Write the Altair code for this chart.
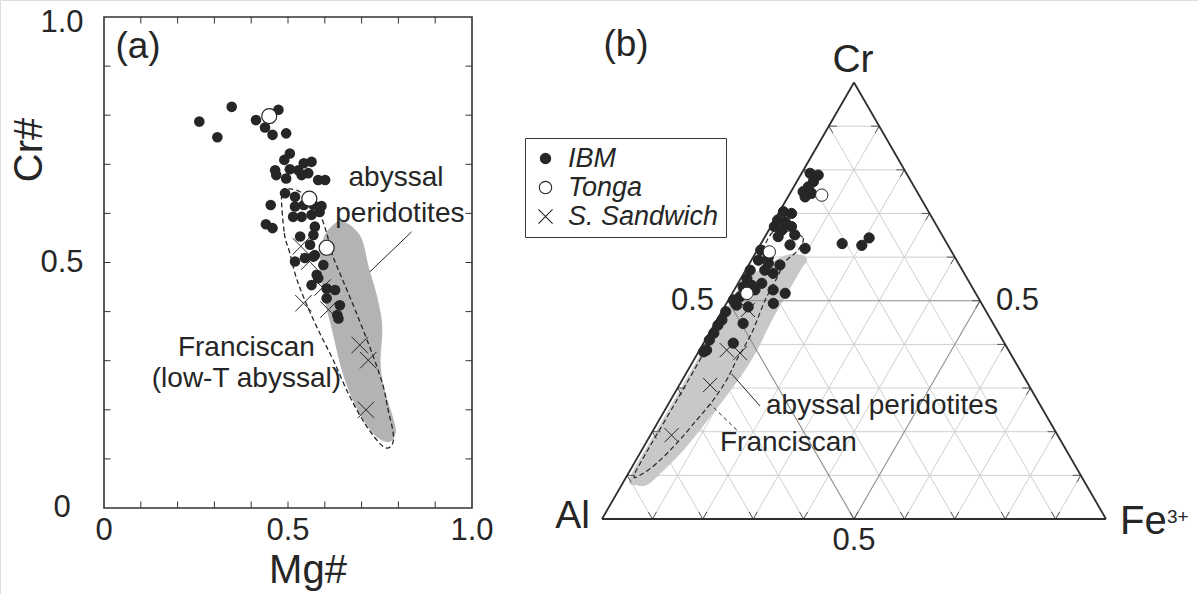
import math
import pandas as pd
import altair as alt

FONT = "Liberation Sans"
INK = "#262626"
GRAY_A = "#b3b3b5"
GRAY_B = "#c8c8c8"
GRID = "#cfcfcf"
GRID_MID = "#8e8e8e"
XPATH = "M-1,-1L1,1M1,-1L-1,1"

W, H = 1198, 594

# ---------------- Panel (a): Mg# vs Cr# ----------------
ibm_a_mg = [0.259, 0.308, 0.347, 0.413, 0.4375, 0.458, 0.474, 0.495,
            0.505, 0.490, 0.465, 0.468, 0.505, 0.495, 0.528, 0.543, 0.564, 0.555, 0.537, 0.582, 0.601,
            0.492, 0.519, 0.453, 0.519, 0.543, 0.569, 0.591, 0.514, 0.537, 0.564, 0.586,
            0.440, 0.458, 0.573, 0.569, 0.533, 0.560, 0.573, 0.546, 0.519, 0.596, 0.578, 0.569,
            0.564, 0.582, 0.605, 0.628, 0.605, 0.641, 0.634, 0.637]
ibm_a_cr = [0.787, 0.755, 0.817, 0.790, 0.775, 0.760, 0.811, 0.763,
            0.722, 0.709, 0.688, 0.678, 0.690, 0.671, 0.688, 0.702, 0.705, 0.682, 0.678, 0.668, 0.668,
            0.641, 0.634, 0.617, 0.614, 0.617, 0.617, 0.615, 0.593, 0.593, 0.597, 0.603,
            0.578, 0.570, 0.573, 0.556, 0.553, 0.536, 0.515, 0.509, 0.502, 0.495, 0.475, 0.512,
            0.454, 0.468, 0.447, 0.444, 0.427, 0.413, 0.393, 0.386]
tonga_a_mg = [0.449, 0.558, 0.605]
tonga_a_cr = [0.798, 0.630, 0.530]
ss_a_mg = [0.535, 0.558, 0.594, 0.542, 0.610, 0.695, 0.718, 0.712]
ss_a_cr = [0.533, 0.502, 0.449, 0.417, 0.404, 0.332, 0.301, 0.200]

# abyssal peridotite field (grey) and Franciscan field (dashed)
abyssal_a_mg = [0.619, 0.650, 0.696, 0.718, 0.741, 0.755, 0.750, 0.759, 0.786, 0.791,
                0.773, 0.732, 0.686, 0.650, 0.623, 0.601, 0.587, 0.596]
abyssal_a_cr = [0.573, 0.583, 0.553, 0.491, 0.430, 0.369, 0.301, 0.247, 0.179, 0.152,
                0.135, 0.152, 0.206, 0.274, 0.356, 0.424, 0.491, 0.546]
francis_a_mg = [0.483, 0.490, 0.505, 0.520, 0.542, 0.578, 0.623, 0.668, 0.714, 0.759,
                0.782, 0.786, 0.772, 0.759, 0.732, 0.686, 0.641, 0.619, 0.605, 0.585, 0.545, 0.505]
francis_a_cr = [0.640, 0.560, 0.519, 0.475, 0.430, 0.369, 0.301, 0.227, 0.166, 0.125,
                0.128, 0.152, 0.200, 0.247, 0.308, 0.397, 0.478, 0.519, 0.560, 0.600, 0.638, 0.650]

ticks_a = [0.1, 0.2, 0.3, 0.4, 0.5, 0.6, 0.7, 0.8, 0.9]
ticklab_a_val = [0.0, 0.5, 1.0]
ticklab_a_txt = ["0", "0.5", "1.0"]

# ---------------- Panel (b): Cr-Al-Fe3+ ternary (fractions, Al = 1 - Cr - Fe) ----------------
ibm_b_cr = [0.792, 0.788, 0.773, 0.761, 0.750, 0.738, 0.746, 0.704, 0.700, 0.685, 0.681, 0.670,
            0.662, 0.670, 0.647, 0.628, 0.620, 0.616, 0.593, 0.586, 0.582, 0.563, 0.570, 0.551,
            0.540, 0.532, 0.509, 0.525, 0.517, 0.494, 0.490, 0.486, 0.475, 0.456, 0.444, 0.448,
            0.403, 0.410, 0.383, 0.387, 0.631, 0.627, 0.644, 0.525, 0.502, 0.570, 0.651, 0.426,
            0.600, 0.535]
ibm_b_fe = [0.017, 0.035, 0.033, 0.029, 0.024, 0.034, 0.043, 0.008, 0.026, 0.006, 0.023, 0.007,
            0.026, 0.041, 0.026, 0.059, 0.093, 0.007, 0.014, 0.037, 0.062, 0.058, 0.009, 0.012,
            0.047, 0.014, 0.019, 0.077, 0.105, 0.093, 0.022, 0.047, 0.008, 0.010, 0.008, 0.056,
            0.059, 0.008, 0.010, 0.014, 0.161, 0.202, 0.208, 0.041, 0.010, 0.038, 0.057, 0.009,
            0.030, 0.030]
tonga_b_cr = [0.742, 0.612, 0.517]
tonga_b_fe = [0.065, 0.026, 0.029]
ss_b_cr = [0.479, 0.387, 0.380, 0.307, 0.192]
ss_b_fe = [0.050, 0.054, 0.084, 0.061, 0.042]

abyssal_b_cr = [0.6025, 0.598, 0.570, 0.517, 0.448, 0.387, 0.326, 0.234, 0.158, 0.1047,
                0.080, 0.078, 0.094, 0.200, 0.350, 0.500, 0.550]
abyssal_b_fe = [0.062, 0.106, 0.108, 0.108, 0.109, 0.1135, 0.111, 0.097, 0.082, 0.063,
                0.051, 0.032, 0.009, 0.008, 0.008, 0.008, 0.015]
francis_b_cr = [0.6575, 0.6438, 0.6163, 0.5888, 0.5521, 0.5017, 0.4254, 0.3643, 0.3184, 0.2726,
                0.2268, 0.1734, 0.1276, 0.1031, 0.0962, 0.1306, 0.2726, 0.433, 0.5934, 0.6575]
francis_b_fe = [0.044, 0.077, 0.081, 0.069, 0.071, 0.073, 0.084, 0.085, 0.088, 0.0845,
                0.0745, 0.0615, 0.0447, 0.028, 0.0154, 0.012, 0.0125, 0.0117, 0.0108, 0.0105]

grid_b = [0.1, 0.2, 0.3, 0.4, 0.5, 0.6, 0.7, 0.8, 0.9]
series_names = ["IBM", "Tonga", "S. Sandwich"]

# ---------------- scales placing each panel on the page ----------------
A_L, A_R, A_T, A_B = 104, 472, 17, 508
xa = alt.Scale(domain=[-A_L / (A_R - A_L), (W - A_L) / (A_R - A_L)], nice=False, zero=False)
ya = alt.Scale(domain=[-(H - A_B) / (A_B - A_T), 1 + A_T / (A_B - A_T)], nice=False, zero=False)
B_X0, B_Y0, SIDE = 602, 519, 504
xb = alt.Scale(domain=[-B_X0 / SIDE, (W - B_X0) / SIDE], nice=False, zero=False)
yb = alt.Scale(domain=[-(H - B_Y0) / SIDE, B_Y0 / SIDE], nice=False, zero=False)
S3 = math.sqrt(3) / 2


def XA(f):
    return alt.X(f, type="quantitative", scale=xa, axis=None)


def YA(f):
    return alt.Y(f, type="quantitative", scale=ya, axis=None)


def XB(f):
    return alt.X(f, type="quantitative", scale=xb, axis=None)


def YB(f):
    return alt.Y(f, type="quantitative", scale=yb, axis=None)


def tern(cr, fe):
    return fe + cr / 2.0, cr * S3


# ================= Panel (a) =================
pts_a = pd.concat([
    pd.DataFrame({"series": "S. Sandwich", "mg": ss_a_mg, "cr": ss_a_cr}),
    pd.DataFrame({"series": "IBM", "mg": ibm_a_mg, "cr": ibm_a_cr}),
    pd.DataFrame({"series": "Tonga", "mg": tonga_a_mg, "cr": tonga_a_cr}),
], ignore_index=True)

gray_a = pd.DataFrame({"mg": abyssal_a_mg, "cr": abyssal_a_cr, "i": range(len(abyssal_a_mg))})
dash_a = pd.DataFrame({"mg": francis_a_mg, "cr": francis_a_cr, "i": range(len(francis_a_mg))})

layer_gray_a = alt.Chart(gray_a).mark_line(
    interpolate="cardinal-closed", fill=GRAY_A, stroke=GRAY_A, strokeWidth=1
).encode(x=XA("mg"), y=YA("cr"), order="i:Q")
layer_dash_a = alt.Chart(dash_a).mark_line(
    interpolate="cardinal-closed", color=INK, strokeWidth=1.3, strokeDash=[5, 3]
).encode(x=XA("mg"), y=YA("cr"), order="i:Q")

leader_a = pd.DataFrame({"x": [0.8361], "y": [0.5627], "x2": [0.7228], "y2": [0.4813]})
layer_leader_a = alt.Chart(leader_a).mark_rule(color=INK, strokeWidth=1).encode(
    x=XA("x"), y=YA("y"), x2="x2", y2="y2")

layer_ss_a = alt.Chart(pts_a[pts_a.series == "S. Sandwich"]).mark_point(
    shape=XPATH, size=270, stroke=INK, strokeWidth=1, opacity=1
).encode(x=XA("mg"), y=YA("cr"))
layer_ibm_a = alt.Chart(pts_a[pts_a.series == "IBM"]).mark_point(
    shape="circle", size=112, filled=True, color=INK, opacity=1
).encode(x=XA("mg"), y=YA("cr"))
layer_tonga_a = alt.Chart(pts_a[pts_a.series == "Tonga"]).mark_point(
    shape="circle", size=225, filled=True, fill="white", stroke=INK, strokeWidth=1.2, opacity=1
).encode(x=XA("mg"), y=YA("cr"))

frame_a = pd.DataFrame({"x": [0.0], "x2": [1.0], "y": [0.0], "y2": [1.0]})
layer_frame_a = alt.Chart(frame_a).mark_rect(fillOpacity=0, stroke="#333333", strokeWidth=1.6).encode(
    x=XA("x"), x2="x2", y=YA("y"), y2="y2")

TLX, TLY = 6.5 / (A_R - A_L), 6.5 / (A_B - A_T)
tick_rows = []
for t in ticks_a:
    tick_rows += [dict(x=t, y=0.0, x2=t, y2=TLY), dict(x=t, y=1.0, x2=t, y2=1 - TLY),
                  dict(x=0.0, y=t, x2=TLX, y2=t), dict(x=1.0, y=t, x2=1 - TLX, y2=t)]
layer_ticks_a = alt.Chart(pd.DataFrame(tick_rows)).mark_rule(color="#333333", strokeWidth=1).encode(
    x=XA("x"), y=YA("y"), x2="x2", y2="y2")

lab_a = pd.DataFrame({"v": ticklab_a_val, "t": ticklab_a_txt, "zero": 0.0})
layer_ylab_a = alt.Chart(lab_a[lab_a.v < 1]).mark_text(font=FONT, fontSize=31, color=INK, align="center",
                                                       baseline="middle", dx=-42).encode(
    x=XA("zero"), y=YA("v"), text="t:N")
layer_ylab_top = alt.Chart(lab_a[lab_a.v == 1]).mark_text(font=FONT, fontSize=31, color=INK, align="center",
                                                          baseline="middle", dx=-42, dy=6).encode(
    x=XA("zero"), y=YA("v"), text="t:N")
layer_xlab_a = alt.Chart(lab_a).mark_text(font=FONT, fontSize=31, color=INK, align="center",
                                          baseline="middle", dy=23).encode(
    x=XA("v"), y=YA("zero"), text="t:N")

ann_a = pd.DataFrame({"t": ["abyssal", "peridotites", "Franciscan", "(low-T abyssal)"],
                      "mg": [0.7935, 0.804, 0.387, 0.387],
                      "cr": [0.672, 0.599, 0.325, 0.263]})
layer_ann_a = alt.Chart(ann_a).mark_text(font=FONT, fontSize=28, color=INK, align="center",
                                         baseline="middle").encode(
    x=XA("mg"), y=YA("cr"), text="t:N")

one = pd.DataFrame({"t": ["Mg#"]})
layer_xtitle = alt.Chart(one).mark_text(font=FONT, fontSize=40, color=INK, align="center",
                                        baseline="alphabetic").encode(
    x=alt.value(308), y=alt.value(583), text="t:N")
layer_ytitle = alt.Chart(pd.DataFrame({"t": ["Cr#"]})).mark_text(
    font=FONT, fontSize=40, color=INK, align="center", baseline="middle", angle=270).encode(
    x=alt.value(30), y=alt.value(150), text="t:N")
layer_tag_a = alt.Chart(pd.DataFrame({"t": ["(a)"]})).mark_text(
    font=FONT, fontSize=37, color=INK, align="center", baseline="alphabetic").encode(
    x=alt.value(138), y=alt.value(58), text="t:N")

panel_a = alt.layer(layer_gray_a, layer_dash_a, layer_leader_a, layer_ss_a, layer_ibm_a,
                    layer_tonga_a, layer_frame_a, layer_ticks_a, layer_ylab_a, layer_ylab_top,
                    layer_xlab_a, layer_ann_a, layer_xtitle, layer_ytitle, layer_tag_a)

# ================= Panel (b) =================
grid_rows, tip_rows = [], []
TIP = 0.016
for t in grid_b:
    segs = [((t, 0.0), (t, 1 - t)),          # Cr = t  (cr, fe)
            ((0.0, t), (1 - t, t)),          # Fe = t
            ((0.0, 1 - t), (1 - t, 0.0))]    # Al = t
    for (c1, f1), (c2, f2) in segs:
        x1, y1 = tern(c1, f1)
        x2, y2 = tern(c2, f2)
        grid_rows.append(dict(x=x1, y=y1, x2=x2, y2=y2, mid="yes" if abs(t - 0.5) < 1e-9 else "no"))
        L = math.hypot(x2 - x1, y2 - y1)
        ux, uy = (x2 - x1) / L, (y2 - y1) / L
        tip_rows.append(dict(x=x1, y=y1, x2=x1 + TIP * ux, y2=y1 + TIP * uy))
        tip_rows.append(dict(x=x2, y=y2, x2=x2 - TIP * ux, y2=y2 - TIP * uy))
grid_df = pd.DataFrame(grid_rows)

layer_grid = alt.Chart(grid_df[grid_df.mid == "no"]).mark_rule(color=GRID, strokeWidth=1).encode(
    x=XB("x"), y=YB("y"), x2="x2", y2="y2")
layer_grid_mid = alt.Chart(grid_df[grid_df.mid == "yes"]).mark_rule(color=GRID_MID, strokeWidth=1.1).encode(
    x=XB("x"), y=YB("y"), x2="x2", y2="y2")
layer_tips = alt.Chart(pd.DataFrame(tip_rows)).mark_rule(color="#555555", strokeWidth=1).encode(
    x=XB("x"), y=YB("y"), x2="x2", y2="y2")

verts = [(0.0, 0.0), (1.0, 0.0), (0.0, 1.0)]  # (cr, fe): Al, Cr, Fe corners
tri_rows = []
for a, b in [(0, 1), (1, 2), (2, 0)]:
    xa1, ya1 = tern(*verts[a])
    xb1, yb1 = tern(*verts[b])
    tri_rows.append(dict(x=xa1, y=ya1, x2=xb1, y2=yb1))
layer_tri = alt.Chart(pd.DataFrame(tri_rows)).mark_rule(color="#2e2e2e", strokeWidth=1.8).encode(
    x=XB("x"), y=YB("y"), x2="x2", y2="y2")

gx, gy = tern(pd.Series(abyssal_b_cr), pd.Series(abyssal_b_fe))
gray_b = pd.DataFrame({"X": gx, "Y": gy, "i": range(len(gx))})
layer_gray_b = alt.Chart(gray_b).mark_line(
    interpolate="cardinal-closed", fill=GRAY_B, stroke=GRAY_B, strokeWidth=1
).encode(x=XB("X"), y=YB("Y"), order="i:Q")
dx_, dy_ = tern(pd.Series(francis_b_cr), pd.Series(francis_b_fe))
dash_b = pd.DataFrame({"X": dx_, "Y": dy_, "i": range(len(dx_))})
layer_dash_b = alt.Chart(dash_b).mark_line(
    interpolate="cardinal-closed", color=INK, strokeWidth=1.2, strokeDash=[5, 3]
).encode(x=XB("X"), y=YB("Y"), order="i:Q")

ld = []
for (c1, f1, c2, f2, kind) in [(0.2589, 0.1841, 0.3322, 0.0912, "solid"),
                               (0.2039, 0.1654, 0.2635, 0.0826, "dash")]:
    x1, y1 = tern(c1, f1)
    x2, y2 = tern(c2, f2)
    ld.append(dict(x=x1, y=y1, x2=x2, y2=y2, kind=kind))
ld = pd.DataFrame(ld)
layer_lead_b1 = alt.Chart(ld[ld.kind == "solid"]).mark_rule(color=INK, strokeWidth=1).encode(
    x=XB("x"), y=YB("y"), x2="x2", y2="y2")
layer_lead_b2 = alt.Chart(ld[ld.kind == "dash"]).mark_rule(color=INK, strokeWidth=1, strokeDash=[4, 3]).encode(
    x=XB("x"), y=YB("y"), x2="x2", y2="y2")

pts_b = pd.concat([
    pd.DataFrame({"series": "S. Sandwich", "cr": ss_b_cr, "fe": ss_b_fe}),
    pd.DataFrame({"series": "IBM", "cr": ibm_b_cr, "fe": ibm_b_fe}),
    pd.DataFrame({"series": "Tonga", "cr": tonga_b_cr, "fe": tonga_b_fe}),
], ignore_index=True)
pts_b["al"] = 1 - pts_b.cr - pts_b.fe
pts_b["X"], pts_b["Y"] = tern(pts_b.cr, pts_b.fe)

leg = alt.Legend(orient="none", legendX=525, legendY=138, title=None, direction="vertical",
                 strokeColor="#3a3a3a", fillColor="white", padding=7, cornerRadius=0,
                 labelFont=FONT, labelFontSize=27, labelFontStyle="italic", labelColor=INK,
                 labelOffset=9, labelLimit=400, rowPadding=1, symbolStrokeWidth=1.1)
layer_pts_b = alt.Chart(pts_b).mark_point(filled=True, opacity=1, strokeWidth=1).encode(
    x=XB("X"), y=YB("Y"),
    shape=alt.Shape("series:N", scale=alt.Scale(domain=series_names, range=["circle", "circle", XPATH]), legend=leg),
    fill=alt.Fill("series:N", scale=alt.Scale(domain=series_names, range=[INK, "white", "transparent"]), legend=leg),
    stroke=alt.Stroke("series:N", scale=alt.Scale(domain=series_names, range=[INK, INK, INK]), legend=leg),
    size=alt.Size("series:N", scale=alt.Scale(domain=series_names, range=[105, 200, 170]), legend=leg),
)


def vlabel(txt, cr, fe, size, align, baseline, dx=0, dy=0):
    x, y = tern(cr, fe)
    return alt.Chart(pd.DataFrame({"t": [txt], "X": [x], "Y": [y]})).mark_text(
        font=FONT, fontSize=size, color=INK, align=align, baseline=baseline, dx=dx, dy=dy
    ).encode(x=XB("X"), y=YB("Y"), text="t:N")


layer_cr = vlabel("Cr", 1.0, 0.0, 39, "center", "alphabetic", dx=-1, dy=-11)
layer_al = vlabel("Al", 0.0, 0.0, 39, "right", "alphabetic", dx=-12, dy=9)
layer_fe = vlabel("Fe", 0.0, 1.0, 40, "left", "alphabetic", dx=14, dy=15)
layer_fe_sup = vlabel("3+", 0.0, 1.0, 19, "left", "alphabetic", dx=61, dy=4)
layer_h_l = vlabel("0.5", 0.5, 0.0, 31, "right", "middle", dx=-14)
layer_h_r = vlabel("0.5", 0.5, 0.5, 31, "left", "middle", dx=16)
layer_h_b = vlabel("0.5", 0.0, 0.5, 31, "center", "middle", dy=22)
layer_ann_b1 = vlabel("abyssal peridotites", 0.2589, 0.196, 28, "left", "middle")
layer_ann_b2 = vlabel("Franciscan", 0.1734, 0.1474, 28, "left", "middle")
layer_tag_b = alt.Chart(pd.DataFrame({"t": ["(b)"]})).mark_text(
    font=FONT, fontSize=37, color=INK, align="center", baseline="alphabetic").encode(
    x=alt.value(626), y=alt.value(56), text="t:N")

panel_b = alt.layer(layer_grid, layer_gray_b, layer_grid_mid, layer_tips, layer_tri, layer_dash_b,
                    layer_lead_b1, layer_lead_b2, layer_pts_b,
                    layer_cr, layer_al, layer_fe, layer_fe_sup, layer_h_l, layer_h_r, layer_h_b,
                    layer_ann_b1, layer_ann_b2, layer_tag_b)

chart = alt.layer(panel_a, panel_b).resolve_scale(x="independent", y="independent").properties(
    width=W, height=H, autosize=alt.AutoSizeParams(type="none"), padding=0,
    background="white"
).configure_view(stroke=None).configure(font=FONT)

chart.save("out.html", embed_options={"renderer": "svg", "actions": False})
